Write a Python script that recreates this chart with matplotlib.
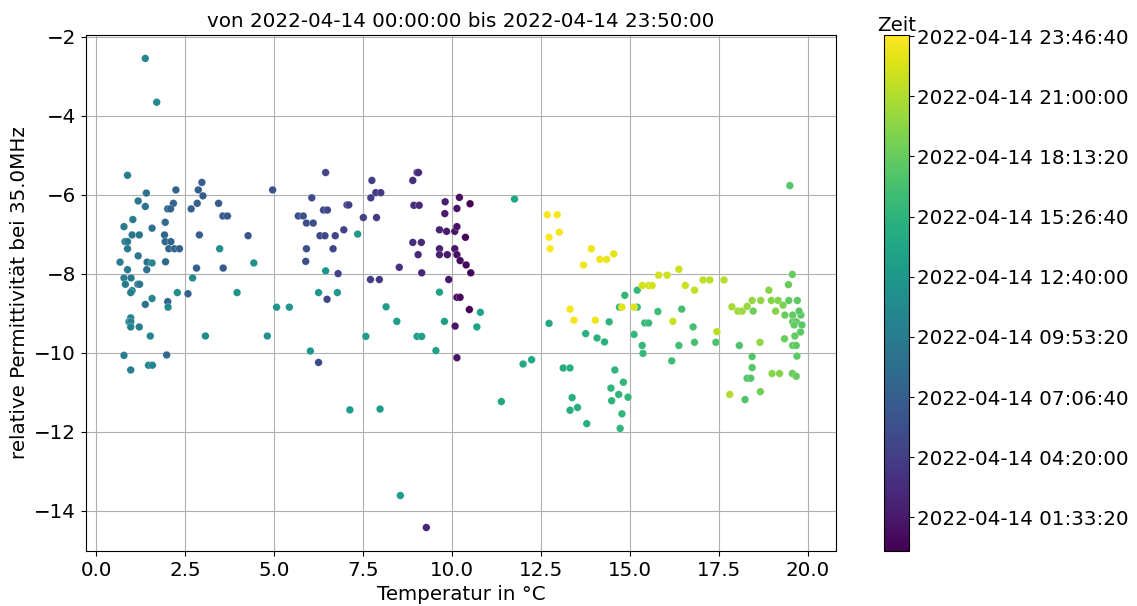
import datetime as dt
import numpy as np
import matplotlib
matplotlib.use("Agg")
import matplotlib.pyplot as plt
from matplotlib.ticker import FuncFormatter

# --- data: (temperature °C, relative permittivity, hour of day) per group ---
temp_nacht = [10.21, 10.51, 9.81, 10.14, 9.80, 9.65, 9.85, 10.08, 10.14, 10.38, 9.65, 9.65, 10.08, 9.87, 10.14, 10.23, 10.40, 10.53, 9.91, 10.14, 10.23, 10.49, 10.09, 10.14]
perm_nacht = [-6.07, -6.23, -6.18, -6.35, -6.48, -6.89, -6.93, -6.93, -6.81, -7.08, -7.37, -7.52, -7.37, -7.52, -7.52, -7.67, -7.78, -7.98, -8.15, -8.60, -8.60, -8.91, -9.33, -10.13]
zeit_nacht = [0.8, 0.2, 1.8, 1.0, 1.9, 2.2, 1.7, 1.2, 1.1, 0.4, 2.1, 2.3, 1.3, 1.6, 1.0, 0.7, 0.3, 0.1, 1.5, 0.9, 0.6, 0.0, 1.4, 1.2]

temp_frueh = [7.75, 9.02, 9.06, 8.90, 7.86, 8.00, 7.72, 8.93, 9.08, 7.51, 7.88, 8.90, 9.14, 9.05, 8.52, 9.15, 7.71, 7.96, 9.28]
perm_frueh = [-5.64, -5.44, -5.44, -5.64, -5.95, -5.95, -6.08, -6.27, -6.27, -6.58, -6.58, -7.21, -7.21, -7.52, -7.84, -7.98, -8.15, -8.15, -14.43]
zeit_frueh = [4.2, 2.9, 2.8, 3.0, 4.0, 3.9, 4.3, 3.0, 2.8, 4.5, 4.0, 3.1, 2.7, 2.8, 3.4, 2.6, 4.3, 3.9, 2.5]

temp_morgen = [6.45, 6.06, 6.39, 6.50, 5.68, 5.82, 5.91, 6.10, 7.05, 7.10, 6.96, 6.29, 6.43, 6.72, 5.91, 6.66, 5.89, 6.80, 6.49, 6.25]
perm_morgen = [-5.44, -6.08, -6.39, -6.39, -6.54, -6.54, -6.72, -6.72, -6.26, -6.26, -6.89, -7.04, -7.04, -7.04, -7.37, -7.37, -7.69, -8.00, -8.65, -10.25]
zeit_morgen = [5.0, 5.5, 5.1, 5.0, 5.9, 5.8, 5.7, 5.5, 4.6, 4.6, 4.7, 5.2, 5.1, 4.9, 5.7, 4.9, 5.7, 4.8, 5.0, 5.3]

temp_vormittag = [4.96, 4.27, 2.97, 2.24, 2.87, 3.00, 2.17, 2.01, 2.09, 2.67, 2.84, 3.44, 3.56, 3.69, 2.90, 1.92, 1.94, 2.10, 2.04, 2.20, 2.34, 1.95, 2.82, 3.57, 2.58, 2.01, 1.98]
perm_vormittag = [-5.88, -7.04, -5.69, -5.88, -5.88, -6.03, -6.22, -6.36, -6.36, -6.36, -6.22, -6.22, -6.54, -6.54, -7.02, -7.02, -7.19, -7.19, -7.37, -7.37, -7.37, -7.70, -7.86, -7.86, -8.51, -8.71, -10.06]
zeit_vormittag = [6.0, 6.3, 7.0, 7.5, 7.1, 7.0, 7.6, 7.8, 7.7, 7.2, 7.1, 6.7, 6.6, 6.5, 7.1, 7.9, 7.9, 7.7, 7.8, 7.6, 7.5, 8.0, 7.2, 6.6, 7.3, 7.8, 8.0]

temp_kalt = [0.88, 1.41, 1.18, 1.38, 1.03, 1.94, 0.78, 1.57, 1.01, 1.21, 0.81, 0.88, 0.88, 1.18, 0.67, 1.43, 0.88, 1.42, 0.78, 0.98, 0.82, 1.17, 1.22, 1.01, 0.97, 1.38, 0.97, 0.92, 0.97, 0.97, 1.21, 0.78, 0.97]
perm_kalt = [-5.51, -5.96, -6.16, -6.30, -6.63, -6.70, -6.81, -6.85, -7.02, -7.02, -7.19, -7.19, -7.37, -7.55, -7.71, -7.71, -7.90, -7.90, -8.11, -8.11, -8.27, -8.27, -8.27, -8.43, -8.48, -8.78, -9.12, -9.22, -9.22, -9.35, -9.35, -10.07, -10.44]
zeit_kalt = [9.8, 9.0, 9.3, 9.1, 9.9, 8.3, 10.0, 8.8, 9.5, 9.2, 9.7, 9.6, 9.6, 9.3, 9.8, 8.9, 9.7, 8.9, 9.8, 9.5, 9.9, 9.4, 9.3, 10.2, 10.3, 9.0, 10.4, 10.5, 10.3, 10.4, 10.0, 9.9, 10.1]

temp_mittag = [1.38, 1.70, 3.47, 1.57, 4.43, 2.71, 2.28, 3.96, 1.57, 2.02, 1.52, 3.07, 4.81, 1.47, 1.58, 5.07, 5.43]
perm_mittag = [-2.55, -3.66, -7.37, -7.73, -7.73, -8.11, -8.48, -8.48, -8.63, -8.85, -9.58, -9.58, -9.58, -10.32, -10.32, -8.85, -8.85]
zeit_mittag = [11.0, 11.3, 11.8, 11.2, 12.0, 11.5, 11.6, 12.0, 11.0, 11.4, 11.0, 11.7, 12.2, 10.8, 10.9, 12.3, 12.4]

temp_frueh_nm = [6.45, 7.35, 6.25, 6.78, 6.02, 7.58, 8.15, 8.45, 9.65, 9.79, 10.80, 10.70, 9.02, 9.15, 9.55, 11.76, 12.00, 12.24, 11.39, 7.13, 7.98, 8.55, 12.73]
perm_frueh_nm = [-7.93, -7.00, -8.48, -8.48, -9.96, -9.59, -8.84, -9.21, -8.47, -9.21, -8.98, -9.35, -9.59, -9.59, -9.95, -6.11, -10.29, -10.18, -11.24, -11.45, -11.43, -13.62, -9.26]
zeit_frueh_nm = [12.5, 12.9, 12.6, 12.7, 12.5, 13.0, 13.2, 13.3, 13.6, 13.6, 13.9, 13.9, 13.4, 13.4, 13.5, 14.2, 14.3, 14.4, 14.1, 13.0, 13.1, 13.3, 14.5]

temp_nachmittag = [13.13, 13.32, 14.58, 14.82, 14.47, 14.69, 14.95, 13.38, 13.53, 13.32, 14.49, 14.78, 13.79, 14.73, 13.76, 14.08, 14.29, 14.42, 15.21, 14.86, 14.71, 15.21, 15.79, 16.46, 15.42, 15.53, 15.12, 15.35, 16.38, 15.37, 16.18, 16.78, 16.82]
perm_nachmittag = [-10.39, -10.39, -10.44, -10.75, -10.90, -11.06, -11.13, -11.14, -11.39, -11.46, -11.22, -11.55, -11.80, -11.92, -9.52, -9.63, -9.73, -9.22, -8.42, -8.55, -8.85, -8.85, -8.96, -8.90, -9.25, -9.25, -9.54, -9.82, -9.82, -10.02, -10.21, -9.35, -9.74]
zeit_nachmittag = [14.7, 14.8, 15.5, 15.6, 15.4, 15.5, 15.7, 14.9, 15.0, 14.9, 15.4, 15.6, 15.1, 15.6, 15.1, 15.2, 15.3, 15.4, 15.9, 15.7, 15.6, 15.9, 16.2, 16.6, 16.0, 16.1, 15.8, 16.0, 16.5, 16.0, 16.4, 16.7, 16.8]

temp_spaet = [19.50, 19.57, 19.46, 18.47, 19.47, 19.71, 19.36, 19.58, 19.81, 19.76, 19.58, 19.68, 19.62, 19.84, 19.80, 19.64, 19.35, 19.58, 19.68, 19.70, 17.42, 18.08, 18.44, 18.44, 18.30, 18.40, 19.57, 19.68, 18.67, 18.24]
perm_spaet = [-5.77, -8.02, -8.28, -8.95, -8.68, -8.68, -9.05, -9.05, -9.05, -8.95, -9.22, -9.22, -9.30, -9.30, -9.48, -9.58, -9.65, -9.82, -9.82, -10.09, -9.74, -9.82, -10.10, -10.38, -10.65, -10.65, -10.53, -10.60, -10.99, -11.19]
zeit_spaet = [17.5, 18.2, 18.3, 18.5, 17.9, 17.8, 18.4, 18.1, 17.7, 17.8, 18.0, 17.9, 18.1, 17.6, 17.7, 18.2, 18.4, 18.0, 17.9, 17.8, 17.0, 17.2, 17.4, 17.5, 17.3, 17.4, 18.3, 18.2, 18.7, 17.3]

temp_abend = [18.91, 17.87, 18.04, 18.16, 18.30, 18.44, 18.68, 18.98, 19.17, 19.31, 19.10, 18.66, 19.00, 19.21]
perm_abend = [-8.42, -8.84, -8.95, -8.95, -8.83, -8.68, -8.68, -8.68, -8.68, -8.80, -8.95, -9.74, -10.53, -10.53]
zeit_abend = [19.5, 20.6, 20.4, 20.3, 20.2, 20.0, 19.8, 19.5, 19.3, 19.1, 19.4, 19.9, 19.6, 19.3]

temp_nacht2 = [16.38, 15.81, 16.05, 15.35, 15.53, 15.63, 16.56, 17.06, 17.25, 17.65, 16.82, 16.21, 17.45, 17.81]
perm_nacht2 = [-7.89, -8.04, -8.04, -8.30, -8.30, -8.30, -8.30, -8.16, -8.16, -8.16, -8.42, -9.21, -9.47, -11.06]
zeit_nacht2 = [21.9, 22.1, 22.0, 22.3, 22.2, 22.2, 21.8, 21.5, 21.4, 21.2, 21.6, 21.9, 21.3, 21.0]

temp_ende = [12.68, 12.96, 13.02, 12.73, 12.76, 13.92, 14.16, 14.35, 14.55, 13.70, 14.78, 15.12, 13.32, 13.43, 14.03]
perm_ende = [-6.51, -6.51, -6.95, -7.08, -7.37, -7.37, -7.64, -7.64, -7.50, -7.78, -8.85, -8.85, -8.90, -9.18, -9.18]
zeit_ende = [23.6, 23.5, 23.4, 23.7, 23.8, 23.2, 23.1, 23.0, 22.9, 23.3, 22.7, 22.6, 23.5, 23.4, 23.2]

start = dt.datetime(2022, 4, 14, 0, 0, 0, tzinfo=dt.timezone.utc)
ende = dt.datetime(2022, 4, 14, 23, 50, 0, tzinfo=dt.timezone.utc)

temps = np.concatenate([temp_nacht, temp_frueh, temp_morgen, temp_vormittag, temp_kalt, temp_mittag,
                        temp_frueh_nm, temp_nachmittag, temp_spaet, temp_abend, temp_nacht2, temp_ende])
perms = np.concatenate([perm_nacht, perm_frueh, perm_morgen, perm_vormittag, perm_kalt, perm_mittag,
                        perm_frueh_nm, perm_nachmittag, perm_spaet, perm_abend, perm_nacht2, perm_ende])
hours = np.concatenate([zeit_nacht, zeit_frueh, zeit_morgen, zeit_vormittag, zeit_kalt, zeit_mittag,
                        zeit_frueh_nm, zeit_nachmittag, zeit_spaet, zeit_abend, zeit_nacht2, zeit_ende])

t0 = start.timestamp()
t1 = ende.timestamp()
times = t0 + hours * 3600.0

fig = plt.figure(figsize=(11.37, 6.06), dpi=100)
ax = fig.add_axes([0.0756, 0.0908, 0.6597, 0.8515])
cax = fig.add_axes([0.7775, 0.0908, 0.022, 0.8515])

sc = ax.scatter(temps, perms, c=times, cmap="viridis", vmin=t0, vmax=t1, s=30,
                edgecolors="white", linewidths=0.15, zorder=3)
ax.grid(True, color="#b0b0b0", linewidth=0.8)
ax.set_axisbelow(True)
fs = 14.3
ax.set_xlabel("Temperatur in °C", fontsize=fs)
ax.set_ylabel("relative Permittivität bei 35.0MHz", fontsize=fs)
ax.set_title("von " + start.strftime("%Y-%m-%d %H:%M:%S") + " bis " + ende.strftime("%Y-%m-%d %H:%M:%S"),
             fontsize=fs)
ax.tick_params(labelsize=fs)
ax.set_xticks(np.arange(0, 20.1, 2.5))
ax.set_yticks(np.arange(-14, -1.9, 2))

cb = fig.colorbar(sc, cax=cax)
ticks = np.arange(np.ceil(t0 / 10000) * 10000, t1, 10000)
cb.set_ticks(ticks)
cb.ax.yaxis.set_major_formatter(FuncFormatter(
    lambda v, p: dt.datetime.fromtimestamp(v, dt.timezone.utc).strftime("%Y-%m-%d %H:%M:%S")))
cb.ax.tick_params(labelsize=fs, pad=2)
cb.ax.set_title("Zeit", fontsize=fs, pad=2)

fig.savefig("out.png", dpi=100)
